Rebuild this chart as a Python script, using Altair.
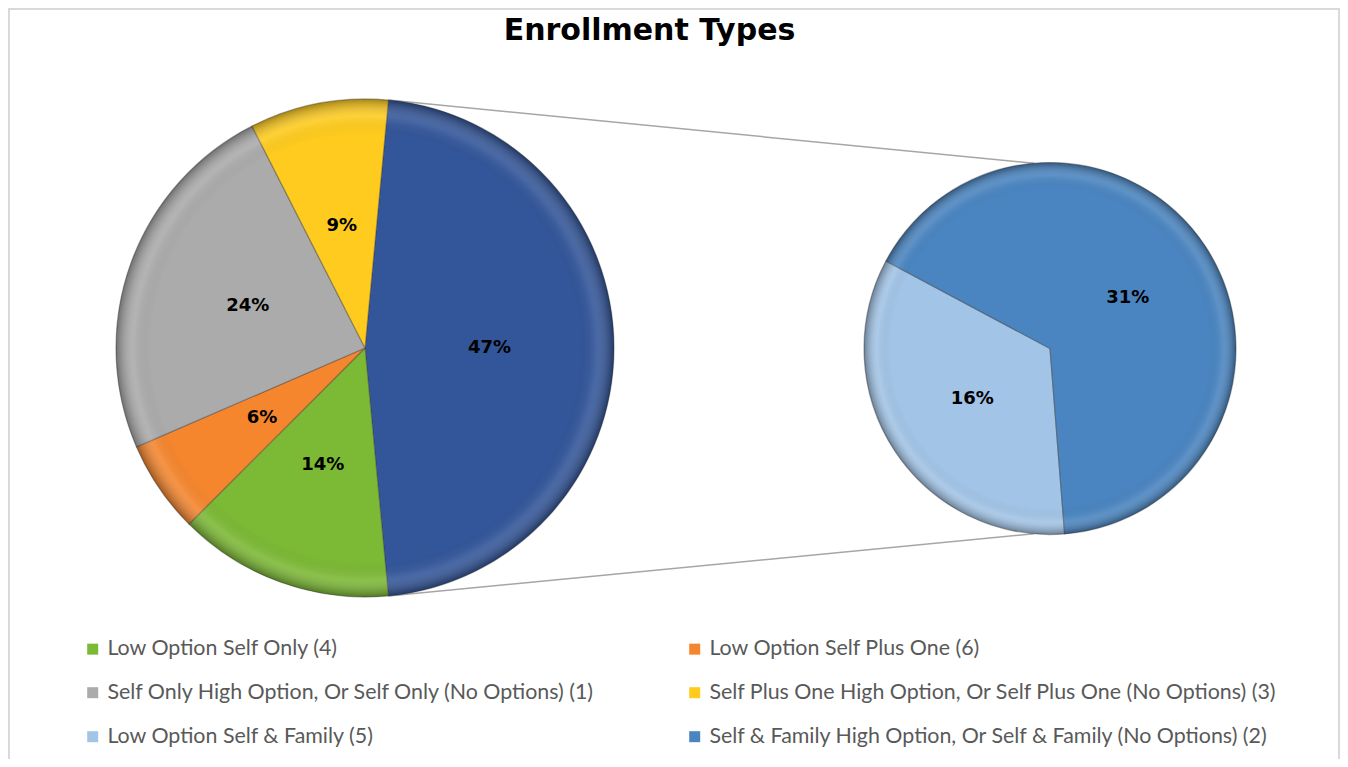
import math
import altair as alt
import pandas as pd

TITLE = "Enrollment Types"

# ---- data ----
left_categories = [
    "Self & Family (combined)",
    "Low Option Self Only (4)",
    "Low Option Self Plus One (6)",
    "Self Only High Option, Or Self Only (No Options) (1)",
    "Self Plus One High Option, Or Self Plus One (No Options) (3)",
]
left_values = [47, 14, 6, 24, 9]
left_labels = ["47%", "14%", "6%", "24%", "9%"]

right_categories = [
    "Low Option Self & Family (5)",
    "Self & Family High Option, Or Self & Family (No Options) (2)",
]
right_values = [16, 31]
right_labels = ["16%", "31%"]

# legend is filled column by column: first column, then second column
legend_order = [
    "Low Option Self Only (4)",
    "Self Only High Option, Or Self Only (No Options) (1)",
    "Low Option Self & Family (5)",
    "Low Option Self Plus One (6)",
    "Self Plus One High Option, Or Self Plus One (No Options) (3)",
    "Self & Family High Option, Or Self & Family (No Options) (2)",
]
color_domain = legend_order + ["Self & Family (combined)"]
color_range = ["#7CB935", "#ABABAB", "#A2C4E6", "#F5862E", "#FECB1E", "#4A85C1", "#33569A"]

# ---- layout (pixels) ----
W, H = 1332, 751
L_CX, L_CY, L_R = 357, 340, 249
R_CX, R_CY, R_R = 1042, 340.5, 186
LABEL_FRAC = 0.5

total_left = sum(left_values)
other_frac = left_values[0] / total_left
left_start = math.pi / 2 - math.pi * other_frac          # "other" slice centred at 3 o'clock
right_start = math.radians(175.5)

left_df = pd.DataFrame({"category": left_categories, "value": left_values,
                        "label": left_labels, "order": list(range(len(left_values)))})
right_df = pd.DataFrame({"category": right_categories, "value": right_values,
                         "label": right_labels, "order": list(range(len(right_values)))})

color_enc = alt.Color(
    "category:N",
    scale=alt.Scale(domain=color_domain, range=color_range),
    legend=alt.Legend(
        values=legend_order, columns=2, orient="none", legendX=74, legendY=630,
        title=None, symbolType="square", symbolSize=121, symbolStrokeWidth=0,
        labelFont="Lato", labelFontSize=21.4, labelColor="#595959", labelLimit=700,
        labelOffset=4, rowPadding=21, columnPadding=88, padding=0,
    ),
)

rim = {
    "gradient": "radial", "x1": 0.5, "y1": 0.5, "r1": 0, "x2": 0.5, "y2": 0.5, "r2": 0.5,
    "stops": [
        {"offset": 0, "color": "rgba(0,0,0,0)"},
        {"offset": 0.86, "color": "rgba(0,0,0,0)"},
        {"offset": 0.93, "color": "rgba(255,255,255,0.10)"},
        {"offset": 1, "color": "rgba(0,0,0,0.35)"},
    ],
}


def pie(df, cx, cy, r, start):
    theta = alt.Theta("value:Q", stack=True,
                      scale=alt.Scale(range=[start, start + 2 * math.pi]))
    arc = alt.Chart(df).mark_arc(outerRadius=r, stroke="#3a3a3a", strokeOpacity=0.4,
                                 strokeWidth=1.2).encode(
        theta=theta, color=color_enc, order=alt.Order("order:Q"),
        x=alt.value(cx), y=alt.value(cy))
    overlay = alt.Chart(pd.DataFrame({"k": [0]})).mark_arc(
        outerRadius=r, fill=rim).encode(
        theta=alt.value(0), theta2=alt.value(2 * math.pi),
        x=alt.value(cx), y=alt.value(cy))
    text = alt.Chart(df).mark_text(radius=r * LABEL_FRAC, font="DejaVu Sans", fontWeight="bold",
                                   fontSize=18, color="#000000").encode(
        theta=theta, text="label:N", order=alt.Order("order:Q"),
        x=alt.value(cx), y=alt.value(cy))
    return alt.layer(arc, overlay, text)


left = pie(left_df, L_CX, L_CY, L_R, left_start)
right = pie(right_df, R_CX, R_CY, R_R, right_start)

# connector lines from the "other" slice edges to the second pie
a_top = left_start
a_bot = left_start + 2 * math.pi * other_frac
r_top = math.radians(-5)
r_bot = math.radians(185)
conn_df = pd.DataFrame({
    "x": [L_CX + L_R * math.sin(a_top), L_CX + L_R * math.sin(a_bot)],
    "y": [L_CY - L_R * math.cos(a_top), L_CY - L_R * math.cos(a_bot)],
    "x2": [R_CX + R_R * math.sin(r_top), R_CX + R_R * math.sin(r_bot)],
    "y2": [R_CY - R_R * math.cos(r_top), R_CY - R_R * math.cos(r_bot)],
})
connectors = alt.Chart(conn_df).mark_rule(color="#A6A6A6", strokeWidth=1.5).encode(
    x=alt.X("x:Q", scale=None), y=alt.Y("y:Q", scale=None),
    x2="x2:Q", y2="y2:Q")

# chart frame (left, top, right)
frame = alt.Chart(pd.DataFrame({"k": [0]})).mark_rule(color="#D9D9D9", strokeWidth=2)
frame_l = frame.encode(x=alt.value(1), y=alt.value(0), y2=alt.value(H))
frame_t = frame.encode(x=alt.value(0), x2=alt.value(W), y=alt.value(1))
frame_r = frame.encode(x=alt.value(W - 1), y=alt.value(0), y2=alt.value(H))

title = alt.Chart(pd.DataFrame({"t": [TITLE]})).mark_text(
    font="DejaVu Sans", fontWeight="bold", fontSize=30, color="#000000", baseline="middle").encode(
    text="t:N", x=alt.value(641.5), y=alt.value(23))

chart = alt.layer(frame_l, frame_t, frame_r, connectors, left, right, title).resolve_scale(
    theta="independent"
).properties(width=W, height=H, padding=0, autosize="none").configure_view(stroke=None)

chart.save("out.html", embed_options={"renderer": "svg", "actions": False})
